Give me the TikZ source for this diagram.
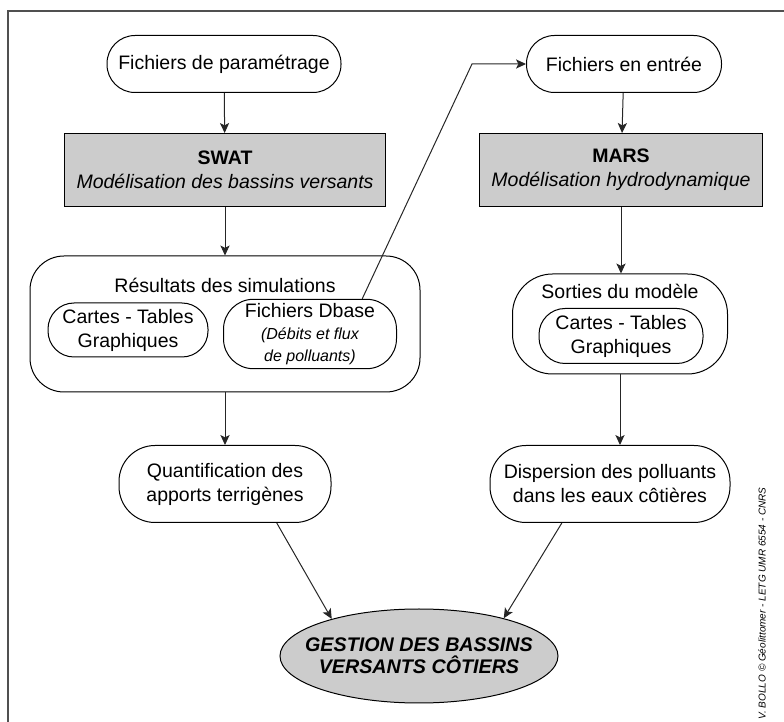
\documentclass[tikz,border=0pt]{standalone}
\usepackage{fontspec}
\setmainfont{Liberation Sans}
\usepackage{tikz}
\usetikzlibrary{shapes.geometric, arrows.meta, positioning}
\definecolor{boxgray}{RGB}{204,204,204}
\definecolor{framegray}{RGB}{80,80,80}

\begin{document}
\begin{tikzpicture}[x=0.5pt, y=-0.5pt,
    pill/.style={rectangle, draw=black, line width=0.5pt, rounded corners=#1, align=center, inner sep=2pt, font=\fontsize{9.75}{12}\selectfont},
    pill/.default=14pt,
    mbox/.style={rectangle, draw=black, line width=0.5pt, fill=boxgray, align=center, minimum height=36.5pt, inner xsep=6pt, font=\fontsize{9.75}{12}\selectfont},
    ttl/.style={inner sep=0pt, font=\fontsize{9.75}{12}\selectfont},
    gbox/.style={ellipse, draw=black, line width=0.5pt, fill=boxgray, align=center, minimum width=139pt, minimum height=47pt, inner xsep=-8pt, font=\fontsize{9.85}{11}\selectfont\bfseries\itshape},
    fleche/.style={draw=black!85, line width=0.5pt, -{Stealth[length=5pt, width=4.6pt, inset=1.2pt]}},
    credit/.style={inner sep=0pt, font=\fontsize{5}{6}\selectfont\itshape},
]
    \useasboundingbox (0,0) rectangle (784,722);
    \draw[framegray, line width=0.8pt] (8,722) -- (8,11) -- (784,11);

    \node[pill, minimum width=117pt, minimum height=28.5pt] (param) at (224,64) {Fichiers de paramétrage};
    \node[pill, minimum width=97.5pt, minimum height=28.5pt] (entree) at (624,64) {Fichiers en entrée};

    \node[mbox, minimum width=129pt] (swat) at (225,170) {\textbf{SWAT}\\\textit{Modélisation des bassins versants}};
    \node[mbox, minimum width=139pt] (mars) at (621,170) {\textbf{MARS}\\\textit{Modélisation hydrodynamique}};

    \node[pill=17pt, minimum width=195pt, minimum height=68pt] (resultats) at (225,324) {};
    \node[ttl] (restitre) at (225,285) {Résultats des simulations};
    \node[pill=13pt, minimum width=80pt, minimum height=27pt] (cartesg) at (128,330) {Cartes - Tables\\Graphiques};
    \node[pill=15pt, minimum width=86.5pt, minimum height=34pt] (dbase) at (310,334) {Fichiers Dbase\\[-1pt]{\fontsize{8}{9.5}\selectfont\itshape (Débits et flux}\\[-1pt]{\fontsize{8}{9.5}\selectfont\itshape de polluants)}};

    \node[pill=20pt, minimum width=107.5pt, minimum height=50pt] (sorties) at (620,324) {};
    \node[ttl] (sortitre) at (620,291) {Sorties du modèle};
    \node[pill=13pt, minimum width=82pt, minimum height=27.5pt] (cartesd) at (621,336) {Cartes - Tables\\Graphiques};

    \node[pill=18pt, minimum width=106pt, minimum height=38.5pt] (quant) at (225,484) {Quantification des\\apports terrigènes};
    \node[pill=18pt, minimum width=120pt, minimum height=38.5pt] (disp) at (610,484) {Dispersion des polluants\\dans les eaux côtières};

    \node[gbox] (gestion) at (419,656) {GESTION DES BASSINS\\VERSANTS CÔTIERS};

    \node[credit, rotate=90, anchor=west] (auteur) at (762,720) {V. BOLLO © Géolittomer - LETG UMR 6554 - CNRS};

    \coordinate (coude) at (472,0);
    \draw[fleche] (param) -- (swat);
    \draw[fleche] (swat) -- (resultats);
    \draw[fleche] (entree) -- (mars);
    \draw[fleche] (mars.south) -- (mars.south |- sorties.north);
    \draw[fleche] (resultats) -- (quant);
    \draw[fleche] (sorties.south) -- (sorties.south |- disp.north);
    \draw[fleche] (dbase.34) -- (entree.west -| coude) -- (entree.west);
    \draw[fleche] (quant.-37) -- (gestion.157.6);
    \draw[fleche] (disp.219) -- (gestion.24.4);
\end{tikzpicture}
\end{document}
